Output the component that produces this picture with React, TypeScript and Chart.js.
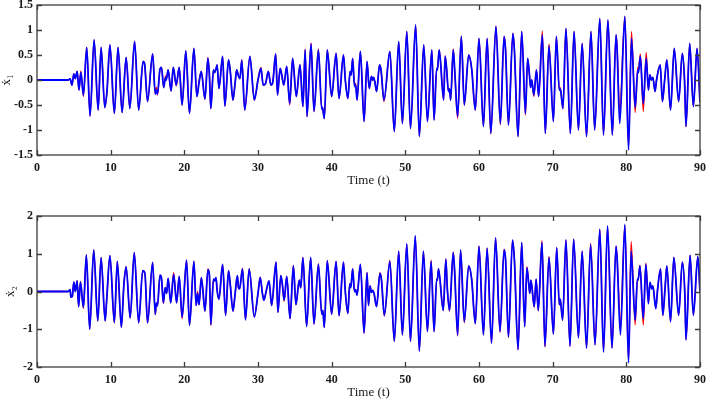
import React, { useEffect, useRef } from "react";
import { Chart, registerables } from "chart.js";

Chart.register(...registerables);

// ---------- DATA ----------
const xTicks = [0, 10, 20, 30, 40, 50, 60, 70, 80, 90];
const yTicksTop = [-1.5, -1, -0.5, 0, 0.5, 1, 1.5];
const yTickLabelsTop = ["-1.5", "-1", "-0.5", "0", "0.5", "1", "1.5"];
const yTicksBot = [-2, -1, 0, 1, 2];
const yTickLabelsBot = ["-2", "-1", "0", "1", "2"];

const tTop = [
  0, 4.2, 4.5, 4.75, 5.0, 5.2, 5.45, 5.7, 5.95, 6.3,
  6.75, 7.2, 7.75, 8.3, 8.7, 9.2, 9.5, 9.9, 10.5, 11.0,
  11.55, 12.1, 12.6, 13.25, 13.8, 14.4, 14.6, 15.0, 15.7, 16.05,
  16.2, 16.35, 16.7, 16.9, 17.2, 17.45, 17.55, 17.8, 18.2, 18.5,
  18.9, 19.3, 19.7, 20.2, 20.7, 21.3, 21.7, 22.0, 22.3, 22.8,
  23.2, 23.4, 23.6, 23.95, 24.1, 24.3, 24.45, 24.7, 25.2, 25.5,
  26.0, 26.25, 26.6, 26.9, 27.1, 27.35, 27.55, 27.8, 28.2, 28.9,
  29.5, 30.0, 30.4, 30.7, 31.0, 31.4, 31.75, 32.0, 32.4, 32.65,
  33.0, 33.2, 33.5, 33.9, 34.3, 34.7, 35.2, 35.7, 36.1, 36.4,
  36.65, 37.2, 37.6, 38.2, 38.65, 38.75, 39.0, 39.4, 40.0, 40.6,
  41.0, 41.6, 41.85, 42.2, 42.5, 42.65, 42.85, 43.1, 43.25, 43.45,
  43.9, 44.4, 44.8, 45.1, 45.4, 45.55, 45.7, 45.85, 46.1, 46.5,
  46.7, 47.1, 47.9, 48.5, 49.1, 49.6, 50.2, 50.7, 51.4, 51.9,
  52.5, 53.0, 53.6, 53.9, 54.25, 54.35, 54.6, 55.2, 55.4, 55.6,
  55.85, 56.0, 56.15, 56.5, 56.7, 57.1, 57.6, 58.0, 58.6, 59.0,
  59.5, 60.0, 60.6, 61.1, 61.6, 62.3, 62.9, 63.4, 63.6, 64.0,
  64.6, 64.8, 65.3, 65.8, 66.3, 66.6, 66.85, 67.0, 67.15, 67.45,
  67.8, 68.1, 68.6, 69.0, 69.5, 70.1, 70.5, 70.9, 71.0, 71.1,
  71.4, 71.8, 72.4, 72.9, 73.5, 74.0, 74.6, 75.2, 75.7, 76.4,
  76.9, 77.5, 78.1, 78.6, 78.75, 79.1, 79.8, 80.3, 80.7, 81.2,
  81.55, 81.65, 81.9, 82.3, 82.7, 83.0, 83.2, 83.4, 83.6, 83.9,
  84.1, 84.6, 84.9, 85.2, 85.5, 86.0, 86.5, 87.1, 87.6, 87.9,
  88.1, 88.6, 89.1, 89.6, 90.0,
];

const x1Blue = [
  0, 0, 0.02, -0.1, 0.12, 0.03, 0.17, -0.2, 0.15, -0.3,
  0.65, -0.72, 0.8, -0.6, 0.65, -0.55, -0.22, 0.7, -0.67, 0.65,
  -0.65, 0.45, -0.57, 0.77, -0.6, 0.37, 0.33, -0.43, 0.52, -0.28,
  -0.2, -0.28, 0.22, 0.25, -0.15, 0.05, 0.0, 0.2, -0.22, 0.25,
  -0.1, 0.25, -0.5, 0.58, -0.67, 0.63, -0.33, -0.05, 0.17, -0.38,
  0.43, 0.1, -0.57, 0.2, 0.15, 0.22, 0.3, -0.17, 0.47, -0.52,
  0.4, 0.15, -0.4, -0.05, 0.2, 0.08, 0.03, 0.39, -0.6, 0.47,
  -0.4, 0.0, 0.23, -0.1, -0.08, 0.17, -0.1, -0.05, 0.52, -0.3,
  0.23, 0.12, -0.1, 0.27, -0.47, 0.43, -0.33, 0.3, -0.53, 0.6,
  -0.73, 0.72, -0.63, 0.6, -0.58, -0.55, -0.77, 0.6, -0.33, 0.53,
  -0.37, 0.5, 0.0, -0.37, 0.17, 0.1, 0.43, -0.13, -0.1, -0.4,
  0.57, -0.83, 0.37, -0.17, 0.07, 0.0, 0.05, -0.03, -0.23, 0.3,
  0.2, -0.4, 0.57, -1.03, 0.77, -0.87, 0.97, -0.97, 1.1, -1.13,
  0.7, -0.83, 0.6, -0.8, 0.23, 0.2, 0.6, -0.4, 0.47, 0.23,
  -0.23, -0.18, -0.4, 0.6, 0.2, -0.73, 0.87, -0.5, 0.5, 0.23,
  -0.6, 0.83, -0.93, 0.83, -1.07, 1.07, -0.87, 0.87, 0.6, -0.9,
  0.93, 0.6, -1.13, 0.97, -0.67, 0.43, 0.1, -0.15, 0.0, -0.3,
  0.2, -0.33, 0.9, -1.07, 0.68, -0.83, 0.87, -0.2, -0.18, -0.22,
  -0.57, 1.03, -1.07, 0.97, -1.0, 0.73, -1.13, 0.97, -1.0, 1.23,
  -1.1, 1.2, -1.1, 0.9, 0.6, -0.87, 1.27, -1.4, 0.83, -0.55,
  0.2, 0.15, 0.47, -0.47, 0.43, -0.2, 0.1, 0.0, 0.05, -0.23,
  0.0, 0.3, -0.43, 0.0, 0.4, -0.6, 0.63, -0.43, 0.53, 0.0,
  -0.93, 0.73, -0.53, 0.63, -0.45,
];

const x1Red = [
  0, 0, 0.02, -0.1, 0.12, 0.03, 0.17, -0.2, 0.18, -0.33,
  0.65, -0.72, 0.8, -0.6, 0.65, -0.55, -0.25, 0.7, -0.67, 0.65,
  -0.65, 0.45, -0.57, 0.77, -0.6, 0.37, 0.33, -0.43, 0.52, -0.28,
  -0.15, -0.3, 0.22, 0.25, -0.15, 0.08, 0.02, 0.2, -0.22, 0.25,
  -0.12, 0.25, -0.5, 0.58, -0.67, 0.63, -0.33, -0.02, 0.17, -0.38,
  0.45, 0.1, -0.57, 0.2, 0.15, 0.22, 0.3, -0.17, 0.47, -0.52,
  0.4, 0.15, -0.4, -0.05, 0.2, 0.08, 0.03, 0.41, -0.6, 0.47,
  -0.4, 0.0, 0.25, -0.1, -0.08, 0.17, -0.1, -0.05, 0.52, -0.3,
  0.23, 0.12, -0.1, 0.27, -0.5, 0.43, -0.33, 0.3, -0.53, 0.62,
  -0.73, 0.74, -0.63, 0.62, -0.58, -0.55, -0.77, 0.6, -0.33, 0.53,
  -0.37, 0.5, 0.0, -0.37, 0.17, 0.1, 0.43, -0.1, -0.07, -0.4,
  0.57, -0.83, 0.37, -0.17, 0.07, 0.0, 0.05, -0.03, -0.23, 0.3,
  0.2, -0.43, 0.57, -1.03, 0.77, -0.87, 0.97, -0.97, 1.1, -1.13,
  0.7, -0.83, 0.6, -0.8, 0.23, 0.2, 0.6, -0.4, 0.48, 0.23,
  -0.23, -0.18, -0.4, 0.62, 0.2, -0.77, 0.88, -0.5, 0.5, 0.23,
  -0.6, 0.83, -0.93, 0.83, -1.07, 1.07, -0.9, 0.87, 0.65, -0.9,
  0.93, 0.63, -1.13, 0.97, -0.7, 0.43, 0.1, -0.15, 0.0, -0.33,
  0.2, -0.33, 0.98, -1.07, 0.72, -0.83, 0.87, -0.2, -0.15, -0.22,
  -0.57, 1.03, -1.07, 0.97, -1.0, 0.73, -1.13, 0.97, -1.0, 1.23,
  -1.1, 1.2, -1.1, 0.9, 0.65, -0.6, 1.27, -1.35, 0.97, -0.65,
  0.25, 0.2, 0.52, -0.63, 0.55, -0.2, 0.1, 0.0, 0.05, -0.23,
  0.0, 0.3, -0.43, 0.0, 0.4, -0.6, 0.63, -0.43, 0.53, 0.0,
  -0.93, 0.73, -0.53, 0.63, -0.45,
];

const tBot = [
  0, 4.25, 4.5, 4.6, 4.8, 5.0, 5.2, 5.45, 5.65, 5.9,
  6.3, 6.7, 7.15, 7.7, 8.25, 8.7, 9.25, 9.45, 9.9, 10.5,
  10.9, 11.45, 11.8, 12.1, 12.65, 13.2, 13.8, 14.35, 14.65, 15.0,
  15.7, 16.05, 16.2, 16.35, 16.7, 16.9, 17.15, 17.4, 17.6, 17.8,
  18.15, 18.55, 18.95, 19.3, 19.7, 20.3, 20.7, 21.3, 21.6, 21.8,
  22.0, 22.3, 22.5, 22.8, 23.2, 23.4, 23.6, 23.95, 24.1, 24.3,
  24.45, 24.7, 25.2, 25.6, 26.0, 26.25, 26.6, 26.9, 27.2, 27.35,
  27.5, 27.9, 28.3, 28.8, 29.5, 30.0, 30.3, 30.6, 30.8, 31.1,
  31.5, 31.85, 32.45, 32.7, 33.1, 33.3, 33.55, 33.9, 34.35, 34.8,
  35.15, 35.6, 35.8, 36.1, 36.6, 37.15, 37.6, 38.2, 38.65, 38.8,
  39.0, 39.4, 40.0, 40.6, 41.0, 41.6, 41.85, 42.2, 42.45, 42.6,
  42.85, 43.1, 43.25, 43.45, 43.9, 44.4, 44.8, 45.0, 45.2, 45.4,
  45.55, 45.75, 46.1, 46.55, 46.75, 47.15, 47.9, 48.5, 49.1, 49.6,
  50.2, 50.7, 51.35, 51.9, 52.45, 53.0, 53.5, 53.9, 54.25, 54.35,
  54.5, 55.15, 55.5, 55.7, 56.0, 56.5, 56.7, 57.1, 57.5, 58.0,
  58.6, 59.0, 59.5, 60.0, 60.6, 61.1, 61.7, 62.25, 62.85, 63.4,
  63.6, 64.0, 64.55, 64.8, 65.3, 65.8, 66.2, 66.5, 66.75, 66.9,
  67.05, 67.5, 67.75, 68.05, 68.55, 68.95, 69.5, 70.1, 70.55, 70.9,
  71.0, 71.1, 71.35, 71.8, 72.35, 72.85, 73.5, 74.0, 74.6, 75.15,
  75.75, 76.4, 76.9, 77.45, 78.05, 78.6, 78.75, 79.2, 79.8, 80.3,
  80.65, 81.2, 81.5, 81.6, 81.85, 82.3, 82.65, 83.0, 83.2, 83.45,
  83.6, 84.0, 84.25, 84.65, 84.95, 85.25, 85.5, 86.0, 86.45, 87.1,
  87.6, 87.95, 88.1, 88.65, 89.1, 89.7, 90.0,
];

const x2Blue = [
  0, 0, 0.05, -0.15, -0.12, 0.25, 0.0, 0.28, -0.4, 0.25,
  -0.42, 0.97, -1.0, 1.1, -0.78, 0.9, -0.78, -0.25, 0.95, -0.82,
  0.8, -0.95, 0.2, 0.65, -0.7, 1.03, -0.83, 0.55, 0.48, -0.83,
  0.77, -0.6, -0.3, -0.38, 0.43, 0.35, -0.3, 0.1, -0.05, 0.35,
  -0.3, 0.45, -0.3, 0.4, -0.68, 0.83, -0.9, 0.8, -0.37, -0.05,
  -0.35, 0.37, 0.07, -0.52, 0.57, 0.45, -0.87, 0.33, 0.28, 0.37,
  0.03, -0.2, 0.72, -0.63, 0.55, 0.15, -0.52, -0.05, 0.42, 0.1,
  0.07, 0.6, -0.75, 0.6, -0.67, -0.05, 0.37, -0.05, -0.23, 0.0,
  0.28, -0.37, 0.78, -0.55, 0.42, 0.2, -0.23, 0.4, -0.72, 0.68,
  -0.35, 0.3, 0.1, 0.9, -0.93, 0.9, -0.86, 0.72, -0.6, -0.5,
  -0.95, 0.82, -0.6, 0.8, -0.64, 0.78, 0.0, -0.58, 0.2, 0.1,
  0.6, 0.0, 0.05, -0.1, 0.72, -1.1, 0.5, -0.37, 0.15, -0.02,
  0.03, -0.05, -0.4, 0.48, 0.33, -0.63, 0.8, -1.32, 1.07, -1.15,
  1.26, -1.32, 1.48, -1.58, 1.07, -1.06, 0.8, -1.06, 0.33, 0.3,
  0.6, -0.5, 0.85, 0.07, -0.5, 1.03, 0.5, -1.15, 1.1, -0.8,
  0.68, 0.33, -0.85, 1.2, -1.15, 1.15, -1.37, 1.42, -1.06, 1.1,
  0.87, -1.2, 1.36, 0.85, -1.54, 1.3, -0.93, 0.63, 0.2, -0.05,
  0.3, -0.4, 0.33, -0.5, 1.3, -1.45, 0.9, -1.13, 1.16, -0.35,
  -0.2, -0.3, -0.76, 1.37, -1.45, 1.39, -1.23, 1.07, -1.5, 1.24,
  -1.41, 1.65, -1.6, 1.74, -1.5, 1.2, 0.85, -1.15, 1.77, -1.89,
  1.07, -0.76, 0.33, 0.3, 0.68, -0.72, 0.72, -0.32, 0.24, 0.07,
  0.15, -0.45, 0.07, 0.6, -0.63, 0.07, 0.68, -0.8, 0.9, -0.63,
  0.78, -0.1, -1.28, 0.96, -0.63, 0.92, 0.0,
];

const x2Red = [
  0, 0, 0.05, -0.15, -0.12, 0.25, 0.0, 0.28, -0.4, 0.27,
  -0.45, 0.97, -1.0, 1.1, -0.78, 0.9, -0.78, -0.28, 0.95, -0.84,
  0.8, -0.95, 0.2, 0.65, -0.7, 1.03, -0.83, 0.55, 0.48, -0.83,
  0.77, -0.62, -0.3, -0.38, 0.43, 0.35, -0.32, 0.1, -0.05, 0.35,
  -0.3, 0.5, -0.3, 0.4, -0.72, 0.83, -0.9, 0.8, -0.37, 0.0,
  -0.35, 0.37, 0.07, -0.52, 0.6, 0.45, -0.9, 0.33, 0.28, 0.37,
  0.03, -0.2, 0.72, -0.63, 0.55, 0.15, -0.52, -0.05, 0.42, 0.1,
  0.07, 0.62, -0.75, 0.6, -0.67, -0.05, 0.38, -0.05, -0.23, 0.0,
  0.28, -0.37, 0.78, -0.55, 0.42, 0.2, -0.26, 0.4, -0.72, 0.7,
  -0.35, 0.3, 0.1, 0.9, -0.93, 0.9, -0.86, 0.74, -0.6, -0.5,
  -0.95, 0.82, -0.6, 0.8, -0.64, 0.78, 0.0, -0.58, 0.2, 0.15,
  0.6, 0.0, 0.05, -0.07, 0.72, -1.1, 0.5, -0.37, 0.15, -0.02,
  0.03, -0.05, -0.4, 0.5, 0.33, -0.65, 0.83, -1.32, 1.07, -1.15,
  1.26, -1.32, 1.45, -1.58, 1.07, -1.06, 0.83, -1.06, 0.33, 0.3,
  0.6, -0.5, 0.87, 0.07, -0.52, 1.05, 0.5, -1.18, 1.1, -0.83,
  0.68, 0.33, -0.85, 1.2, -1.15, 1.15, -1.37, 1.42, -1.08, 1.12,
  0.87, -1.22, 1.36, 0.87, -1.54, 1.3, -0.93, 0.66, 0.2, -0.05,
  0.3, -0.42, 0.33, -0.52, 1.35, -1.47, 0.93, -1.13, 1.16, -0.35,
  -0.2, -0.3, -0.76, 1.37, -1.45, 1.39, -1.23, 1.07, -1.5, 1.28,
  -1.41, 1.65, -1.6, 1.72, -1.5, 1.2, 0.9, -0.8, 1.75, -1.85,
  1.33, -0.89, 0.33, 0.3, 0.7, -0.89, 0.75, -0.32, 0.24, 0.07,
  0.15, -0.45, 0.07, 0.6, -0.63, 0.07, 0.68, -0.8, 0.9, -0.63,
  0.78, -0.1, -1.28, 0.96, -0.63, 0.92, 0.0,
];

// ---------- STYLE ----------
const SERIF = "'Liberation Serif', 'DejaVu Serif', 'Times New Roman', serif";
const TEXT = "#1a1a1a";
const AXIS = "#3c3c3c";

const boxPlugin = {
  id: "matlabBox",
  afterDatasetsDraw(chart: any) {
    const { ctx, chartArea } = chart;
    const { left, right, top, bottom } = chartArea;
    const xs = chart.scales.x;
    const ys = chart.scales.y;
    const L = 5;
    ctx.save();
    ctx.strokeStyle = AXIS;
    ctx.lineWidth = 1.3;
    ctx.beginPath();
    xs.ticks.forEach((t: any) => {
      const px = Math.round(xs.getPixelForValue(t.value)) + 0.5;
      ctx.moveTo(px, bottom);
      ctx.lineTo(px, bottom - L);
      ctx.moveTo(px, top);
      ctx.lineTo(px, top + L);
    });
    ys.ticks.forEach((t: any) => {
      const py = Math.round(ys.getPixelForValue(t.value)) + 0.5;
      ctx.moveTo(left, py);
      ctx.lineTo(left + L, py);
      ctx.moveTo(right, py);
      ctx.lineTo(right - L, py);
    });
    ctx.stroke();
    ctx.strokeRect(left, top, right - left, bottom - top);
    ctx.restore();
  },
};

type PanelCfg = {
  t: number[];
  blue: number[];
  red: number[];
  yMin: number;
  yMax: number;
  yTicks: number[];
  yLabels: string[];
  yTitle: string;
  yTitlePad: number;
  padTop: number;
  xAxisHeight: number;
  xTitlePadBottom: number;
};

function makeConfig(p: PanelCfg): any {
  const tickFont = { family: SERIF, size: 12, weight: "bold" as const };
  return {
    type: "line",
    data: {
      datasets: [
        {
          label: "blue",
          data: p.t.map((x, i) => ({ x, y: p.blue[i] })),
          borderColor: "#0000ff",
          borderWidth: 1.8,
          pointRadius: 0,
          fill: false,
          cubicInterpolationMode: "monotone",
        },
        {
          label: "red",
          data: p.t.map((x, i) => ({ x, y: p.red[i] })),
          borderColor: "#ff0000",
          borderWidth: 1.3,
          pointRadius: 0,
          fill: false,
          cubicInterpolationMode: "monotone",
        },
      ],
    },
    options: {
      animation: false,
      responsive: false,
      maintainAspectRatio: false,
      events: [],
      layout: { padding: { left: 0, right: 6, top: p.padTop, bottom: 0 } },
      plugins: { legend: { display: false }, tooltip: { enabled: false } },
      scales: {
        x: {
          type: "linear",
          min: 0,
          max: 90,
          afterBuildTicks: (s: any) => {
            s.ticks = xTicks.map((v) => ({ value: v }));
          },
          ticks: {
            font: tickFont,
            color: TEXT,
            padding: 6,
            maxRotation: 0,
            autoSkip: false,
            callback: (v: any) => String(v),
          },
          grid: { display: false, drawTicks: false },
          border: { display: false },
          title: {
            display: true,
            text: "Time (t)",
            color: TEXT,
            font: { family: SERIF, size: 13 },
            padding: { top: 0, bottom: p.xTitlePadBottom },
          },
          afterFit: (s: any) => {
            s.height = p.xAxisHeight;
            s.paddingLeft = 0;
            s.paddingRight = 0;
          },
        },
        y: {
          type: "linear",
          min: p.yMin,
          max: p.yMax,
          afterBuildTicks: (s: any) => {
            s.ticks = p.yTicks.map((v) => ({ value: v }));
          },
          ticks: {
            font: tickFont,
            color: TEXT,
            padding: 4,
            autoSkip: false,
            callback: (v: any) => {
              const i = p.yTicks.indexOf(Number(v));
              return i >= 0 ? p.yLabels[i] : "";
            },
          },
          grid: { display: false, drawTicks: false },
          border: { display: false },
          title: {
            display: true,
            text: p.yTitle,
            color: TEXT,
            font: { family: SERIF, size: 13 },
            padding: { top: p.yTitlePad, bottom: 0 },
          },
          afterFit: (s: any) => {
            s.width = 37;
            s.paddingTop = 0;
            s.paddingBottom = 0;
          },
        },
      },
    },
    plugins: [boxPlugin],
  };
}

function Panel({ cfg, top }: { cfg: PanelCfg; top: number }) {
  const ref = useRef<HTMLCanvasElement | null>(null);
  useEffect(() => {
    if (!ref.current) return;
    const chart = new Chart(ref.current, makeConfig(cfg));
    return () => chart.destroy();
  }, []);
  return (
    <canvas
      ref={ref}
      width={706}
      height={200}
      style={{ position: "absolute", left: 0, top, width: 706, height: 200 }}
    />
  );
}

export default function App() {
  useEffect(() => {
    document.body.style.margin = "0";
    document.body.style.background = "#ffffff";
  }, []);
  const topCfg: PanelCfg = {
    t: tTop,
    blue: x1Blue,
    red: x1Red,
    yMin: -1.5,
    yMax: 1.5,
    yTicks: yTicksTop,
    yLabels: yTickLabelsTop,
    yTitle: "ẋ₁",
    yTitlePad: -1,
    padTop: 5,
    xAxisHeight: 45,
    xTitlePadBottom: 12,
  };
  const botCfg: PanelCfg = {
    t: tBot,
    blue: x2Blue,
    red: x2Red,
    yMin: -2,
    yMax: 2,
    yTicks: yTicksBot,
    yLabels: yTickLabelsBot,
    yTitle: "ẋ₂",
    yTitlePad: 3,
    padTop: 16,
    xAxisHeight: 33,
    xTitlePadBottom: 0,
  };
  return (
    <div style={{ position: "absolute", left: 0, top: 0, width: 706, height: 400, background: "#fff", overflow: "hidden" }}>
      <Panel cfg={topCfg} top={0} />
      <Panel cfg={botCfg} top={200} />
    </div>
  );
}
